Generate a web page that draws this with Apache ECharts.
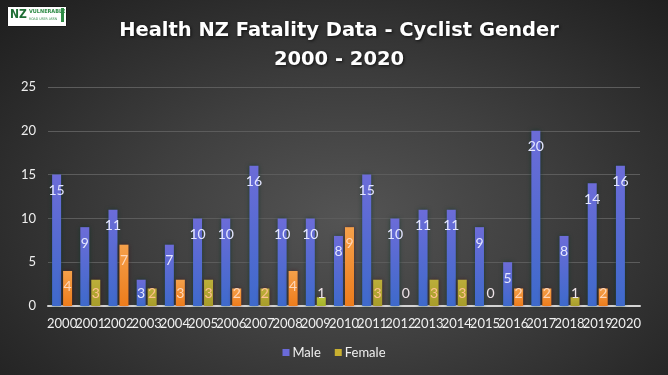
<!DOCTYPE html>
<html><head><meta charset="utf-8">
<script src="https://cdn.jsdelivr.net/npm/echarts@6/dist/echarts.min.js"></script>
<style>
html,body{margin:0;padding:0;}
#c{width:668px;height:375px;background:radial-gradient(ellipse 75% 85% at 52% 58%, #545454 0%, #3f3f3f 40%, #2a2a2a 75%, #1c1c1c 100%);}
</style></head>
<body><div id="c"></div>
<script>
const years = ['2000','2001','2002','2003','2004','2005','2006','2007','2008','2009','2010','2011','2012','2013','2014','2015','2016','2017','2018','2019','2020'];
const male = [15,9,11,3,7,10,10,16,10,10,8,15,10,11,11,9,5,20,8,14,16];
const female = [4,3,7,2,3,3,2,2,4,1,9,3,0,3,3,0,2,2,1,2,null];
const yTicks = [0,5,10,15,20,25];
// style per female bar: o = orange, y = yellow, g = green-yellow
const femaleTone = ['o','y','o','y','o','y','o','y','o','g','o','y','y','y','y','y','o','o','y','o','y'];

const toneColor = {
  o: {top:'#f5a04a', bot:'#ee7c1c', l:'#ffd6b8'},
  y: {top:'#bcae3a', bot:'#a89c2a', l:'#ffc08e'},
  g: {top:'#b8c03a', bot:'#a6b42a', l:'#f2dce4'}
};
const maleGrad = new echarts.graphic.LinearGradient(0,0,0,1,[{offset:0,color:'#6c6cd8'},{offset:1,color:'#3e6acb'}]);

function lbl(v, color){
  const base = {show:true, color: color, fontSize:14, fontFamily:'Lato', fontWeight:'normal'};
  if (v <= 3) return Object.assign(base, {position:'insideBottom', distance:6});
  return Object.assign(base, {position:'insideTop', distance:9});
}

const maleData = male.map(v => ({value:v, label: lbl(v,'#e4e6ff')}));
const femaleData = female.map((v,i) => {
  if (v === null) return null;
  const t = toneColor[femaleTone[i]];
  return {value:v,
    itemStyle:{color: new echarts.graphic.LinearGradient(0,0,0,1,[{offset:0,color:t.top},{offset:1,color:t.bot}])},
    label: lbl(v, v<=1 ? '#eee4e8' : t.l)};
});

const chart = echarts.init(document.getElementById('c'), null, {renderer:'canvas'});
chart.setOption({
  backgroundColor:'transparent',
  animation:false,
  title:{
    text:'Health NZ Fatality Data - Cyclist Gender\n2000 - 2020',
    left:334, textAlign:'center', top:11,
    textStyle:{color:'#ffffff', fontSize:19.5, fontWeight:'bold', fontFamily:'DejaVu Sans', lineHeight:29,
      textShadowColor:'rgba(0,0,0,0.7)', textShadowBlur:3, textShadowOffsetX:1, textShadowOffsetY:1}
  },
  graphic:[
    {type:'rect', left:7, top:6, shape:{width:59,height:20}, style:{fill:'#ffffff', stroke:'#1a1a1a', lineWidth:1}},
    {type:'rect', left:61, top:8, shape:{width:3,height:14}, style:{fill:'#2e8b45'}},
    {type:'text', left:10, top:9, style:{text:'NZ', fill:'#1f6e35', font:'bold 12px "DejaVu Sans Condensed", sans-serif'}},
    {type:'text', left:29, top:9, style:{text:'VULNERABLE', fill:'#2e8b45', font:'bold 5.5px "DejaVu Sans Condensed", sans-serif'}},
    {type:'text', left:29, top:17, style:{text:'ROAD USER ASSN', fill:'#2e8b45', font:'3.5px "DejaVu Sans Condensed", sans-serif'}}
  ],
  legend:{
    data:[{name:'Male', itemStyle:{color:'#6a6ad8'}},{name:'Female', itemStyle:{color:'#c8b030'}}],
    bottom:11, left:'center', icon:'rect', itemWidth:7, itemHeight:7, itemGap:14,
    textStyle:{color:'#f0f0f0', fontSize:13, fontFamily:'Lato', padding:[0,0,0,-2]}
  },
  grid:{left:48, right:28, top:87, bottom:69},
  xAxis:{
    type:'category', data:years,
    axisLine:{lineStyle:{color:'#d4d4d4', width:2}},
    axisTick:{show:false},
    axisLabel:{color:'#f0f0f0', fontSize:13, fontFamily:'Lato', interval:0, margin:11}
  },
  yAxis:{
    type:'value', min:yTicks[0], max:yTicks[yTicks.length-1], interval:5,
    axisLine:{show:false}, axisTick:{show:false},
    axisLabel:{color:'#eeeeee', fontSize:13, fontFamily:'Lato', margin:12},
    splitLine:{lineStyle:{color:'#5c5c5c', width:1}}
  },
  series:[
    {name:'Male', type:'bar', data:maleData, barWidth:9, barGap:'22%',
      itemStyle:{color:maleGrad, shadowColor:'rgba(0,50,35,0.6)', shadowBlur:4}},
    {name:'Female', type:'bar', data:femaleData, barWidth:9,
      itemStyle:{color:'#c8b030', shadowColor:'rgba(60,0,10,0.5)', shadowBlur:4}}
  ]
});
</script></body></html>
